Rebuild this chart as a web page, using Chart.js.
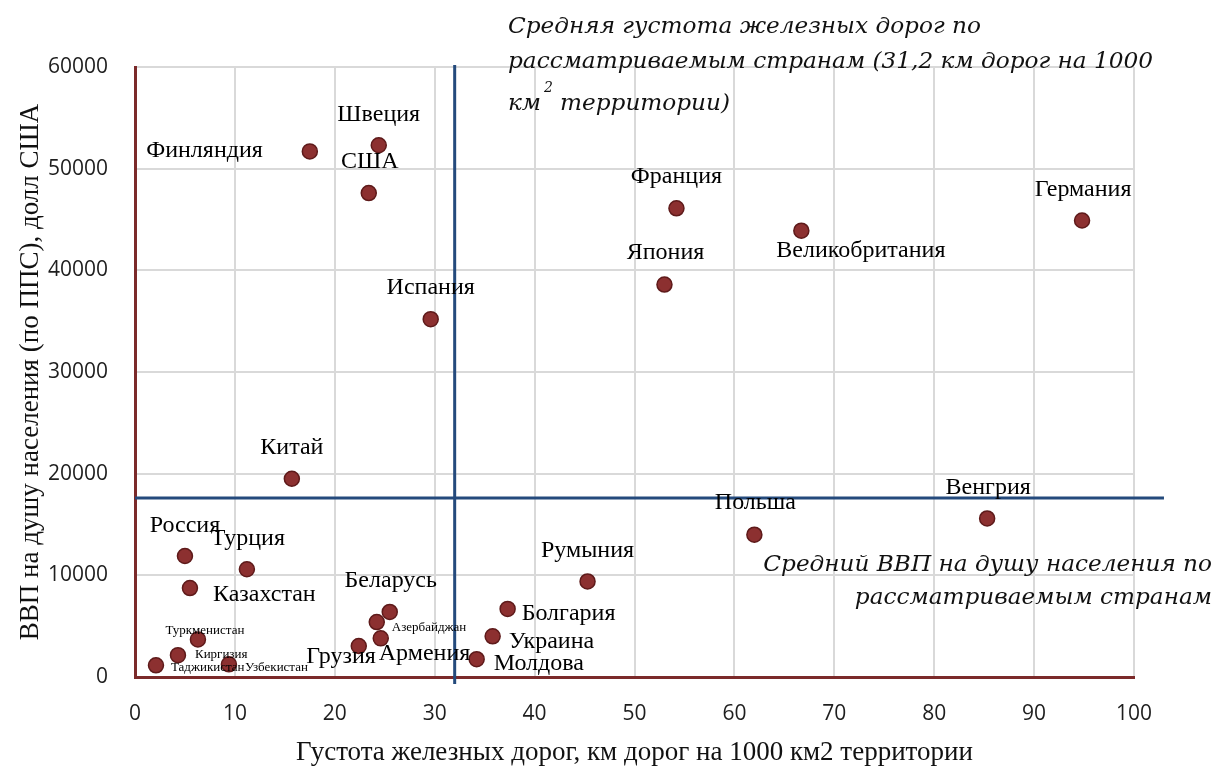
<!DOCTYPE html>
<html><head><meta charset="utf-8">
<script src="https://cdn.jsdelivr.net/npm/chart.js@4.4.1/dist/chart.umd.min.js"></script>
<style>html,body{margin:0;padding:0;background:#fff}#wrap{width:1216px;height:766px}</style>
</head><body><div id="wrap"><canvas id="c" width="1216" height="766"></canvas></div>
<script>
const countries = ["Финляндия","Швеция","США","Франция","Германия","Великобритания","Япония","Испания","Китай","Венгрия","Польша","Россия","Турция","Румыния","Казахстан","Болгария","Беларусь","Азербайджан","Украина","Армения","Туркменистан","Грузия","Киргизия","Молдова","Таджикистан","Узбекистан"];
const railDensity = [17.5,24.4,23.4,54.2,94.8,66.7,53.0,29.6,15.7,85.3,62.0,5.0,11.2,45.3,5.5,37.3,25.5,24.2,35.8,24.6,6.3,22.4,4.3,34.2,2.1,9.4];
const gdpPerCapita = [51700,52300,47600,46100,44900,43900,38600,35200,19500,15600,14000,11900,10600,9400,8750,6700,6400,5400,4000,3800,3700,3050,2150,1750,1150,1250];
const avgDensity = 32;
const avgGdp = 17600;
const xTicks = [0,10,20,30,40,50,60,70,80,90,100];
const yTicks = [0,10000,20000,30000,40000,50000,60000];

// label placement styling: [align, dx, dy, size]
const labelStyle = {
 "Финляндия":["right",-47,-1,24],"Швеция":["center",0,-31,24],"США":["center",1,-31,24],
 "Франция":["center",0,-32,24],"Германия":["center",1,-31,24],"Великобритания":["left",-25,20,24],
 "Япония":["center",1,-32,24],"Испания":["center",0,-31,24],"Китай":["center",0,-31,24],
 "Венгрия":["center",1,-31,24],"Польша":["center",1,-32,24],"Россия":["center",0,-30,24],
 "Турция":["center",1,-31,24],"Румыния":["center",0,-31,24],"Казахстан":["left",23,7,24],
 "Болгария":["left",14,5,24],"Беларусь":["center",1,-31,24],"Азербайджан":["left",15,5,13],
 "Украина":["left",16,5,24],"Армения":["left",-2,15,24],"Туркменистан":["center",7,-9,13],
 "Грузия":["right",17,11,24],"Киргизия":["left",17,-1,13],"Молдова":["left",17,4,24],
 "Таджикистан":["left",15,2,13],"Узбекистан":["left",16,3,13]
};

const labelPlugin = {
  id:'labels',
  afterDatasetsDraw(chart){
    const ctx = chart.ctx;
    const meta = chart.getDatasetMeta(2);
    ctx.save();
    ctx.fillStyle = '#000';
    ctx.textBaseline = 'middle';
    meta.data.forEach((pt,i)=>{
      const s = labelStyle[countries[i]];
      ctx.font = s[3]+'px "Liberation Serif", "Times New Roman", serif';
      ctx.textAlign = s[0];
      ctx.fillText(countries[i], pt.x + s[1], pt.y + s[2]);
    });
    // annotations
    const f = 'italic 23.2px "DejaVu Serif", serif';
    ctx.font = f;
    ctx.textAlign = 'left';
    ctx.fillStyle = '#111';
    ctx.fillText('Средняя густота железных дорог по', 508, 27);
    ctx.fillText('рассматриваемым странам (31,2 км дорог на 1000', 508, 62);
    ctx.fillText('км', 508, 104);
    ctx.font = 'italic 14px "DejaVu Serif", serif';
    ctx.fillText('2', 544, 88);
    ctx.font = f;
    ctx.fillText('территории)', 560, 104);
    ctx.textAlign = 'right';
    ctx.fillText('Средний ВВП на душу населения по', 1212, 565);
    ctx.fillText('рассматриваемым странам', 1212, 598);
    ctx.restore();
  }
};

const chart = new Chart(document.getElementById('c'), {
  type:'scatter',
  data:{datasets:[
    {type:'line', data:[{x:0,y:avgGdp},{x:103,y:avgGdp}], borderColor:'#244a7c', borderWidth:3, pointRadius:0, clip:false, order:2},
    {type:'line', data:[{x:avgDensity,y:-700},{x:avgDensity,y:60200}], borderColor:'#244a7c', borderWidth:3, pointRadius:0, clip:false, order:2},
    {data: railDensity.map((x,i)=>({x, y:gdpPerCapita[i]})), backgroundColor:'#8c3030', borderColor:'#5e1a1a', borderWidth:1.5, pointRadius:7.5, pointHoverRadius:7.5, order:1}
  ]},
  options:{
    responsive:false, animation:false,
    layout:{padding:{left:0,right:82,top:67,bottom:0}},
    plugins:{legend:{display:false}, tooltip:{enabled:false}},
    scales:{
      x:{type:'linear', min:0, max:100,
        afterBuildTicks(s){ s.ticks = xTicks.map(v=>({value:v})); },
        afterFit(s){ s.height = 89; },
        grid:{color:'#d9d9d9', lineWidth:2, drawTicks:false},
        border:{color:'#7b2a2a', width:3},
        ticks:{padding:24, color:'#1e1e1e', font:{family:'"Open Sans", sans-serif', size:21}, callback:v=>String(v)},
        title:{display:true, text:'Густота железных дорог, км дорог на 1000 км2 территории', color:'#111', font:{family:'"Liberation Serif", serif', size:27, lineHeight:1.0}, padding:{top:4,bottom:0}}
      },
      y:{type:'linear', min:0, max:60000,
        afterBuildTicks(s){ s.ticks = yTicks.map(v=>({value:v})); },
        afterFit(s){ s.width = 135; },
        grid:{color:'#d9d9d9', lineWidth:2, drawTicks:false},
        border:{color:'#7b2a2a', width:3},
        ticks:{padding:27, color:'#1e1e1e', font:{family:'"Open Sans", sans-serif', size:21}, callback:v=>String(v)},
        title:{display:true, text:'ВВП на душу населения (по ППС), долл США', color:'#111', font:{family:'"Liberation Serif", serif', size:27, lineHeight:1.0}, padding:{top:17,bottom:0}}
      }
    }
  },
  plugins:[labelPlugin]
});
</script></body></html>
